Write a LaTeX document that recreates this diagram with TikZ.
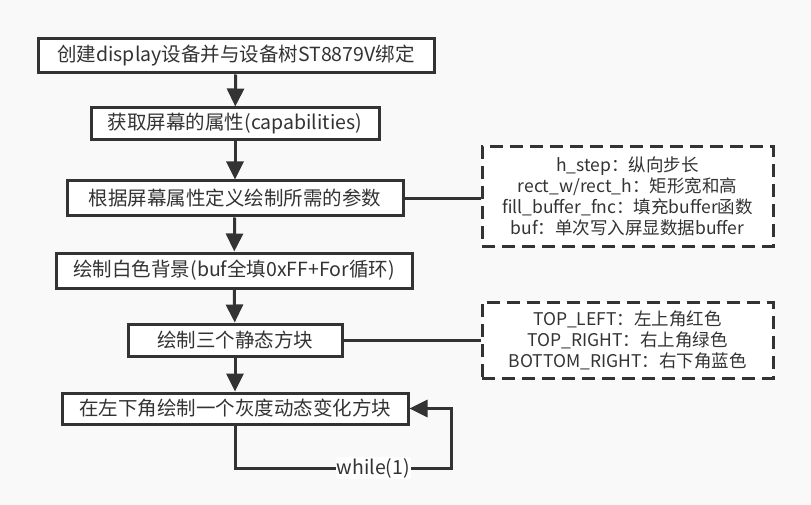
\documentclass[tikz,border=0pt]{standalone}
\usepackage{fontspec}
\setmainfont{Noto Sans CJK SC}
\usetikzlibrary{arrows.meta}
\definecolor{ink}{HTML}{333333}
\definecolor{bg}{HTML}{F9F9F9}
\tikzset{
  box/.style={draw=ink, line width=3pt, fill=white, inner sep=0pt, minimum height=#1, text=ink, font=\fontsize{19.5}{23}\selectfont},
  box/.default=33pt,
  note/.style={draw=ink, line width=3pt, dash pattern=on 13pt off 7pt, fill=white, inner sep=0pt, align=center, text=ink, font=\fontsize{17.5}{21}\selectfont},
  link/.style={draw=ink, line width=3pt},
  flow/.style={link, -{Triangle[length=18pt,width=17pt]}},
}
\begin{document}
\begin{tikzpicture}[x=1pt,y=-1pt]
\fill[bg] (0,0) rectangle (811,505);
\useasboundingbox (0,0) rectangle (811,505);
\node[box, minimum width=396pt, minimum height=34pt] (b1) at (236,56) {创建display设备并与设备树ST8879V绑定};
\node[box, minimum width=288pt, minimum height=32pt] (b2) at (235,124) {获取屏幕的属性(capabilities)};
\node[box, minimum width=336pt, minimum height=35pt] (b3) at (235,198.5) {根据屏幕属性定义绘制所需的参数};
\node[box, minimum width=356pt, minimum height=35pt] (b4) at (234,270.5) {绘制白色背景(buf全填0xFF+For循环)};
\node[box, minimum width=214pt, minimum height=32pt] (b5) at (235,340) {绘制三个静态方块};
\node[box, minimum width=346pt, minimum height=31pt] (b6) at (235,408.5) {在左下角绘制一个灰度动态变化方块};
\node[note, minimum width=291pt, minimum height=99pt] (n1) at (627.5,196.5) {h\_step：纵向步长\\rect\_w/rect\_h：矩形宽和高\\fill\_buffer\_fnc：填充buffer函数\\buf：单次写入屏显数据buffer};
\node[note, minimum width=291pt, minimum height=76pt] (n2) at (627.5,340) {TOP\_LEFT：左上角红色\\TOP\_RIGHT：右上角绿色\\BOTTOM\_RIGHT：右下角蓝色};
\coordinate (l1) at (235,468);
\coordinate (l2) at (451,468);
\coordinate (l3) at (451,408.5);
\draw[flow] (b1) -- (b2);
\draw[flow] (b2) -- (b3);
\draw[flow] (b3) -- (b4);
\draw[flow] (b4) -- (b5);
\draw[flow] (b5) -- (b6);
\draw[link] (b3.east) -- (n1.west |- b3.east);
\draw[link] (b5.east) -- (n2.west |- b5.east);
\draw[flow] (b6.south) -- (l1) -- node[pos=0.64, fill=white, inner sep=1pt, text=ink, font=\fontsize{19.5}{23}\selectfont] (wl) {while(1)} (l2) -- (l3) -- (b6.east);
\end{tikzpicture}
\end{document}
